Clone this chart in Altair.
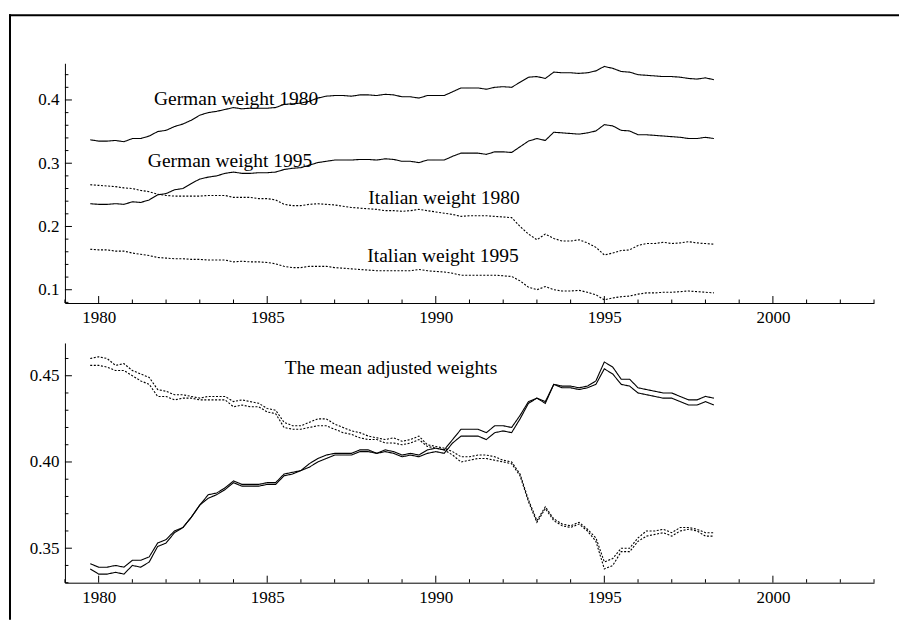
import altair as alt
import pandas as pd

# quarterly time index 1979Q4 .. 1998Q2
quarters = [round(1979.75 + 0.25 * i, 2) for i in range(75)]

german_1980 = [0.337, 0.335, 0.335, 0.336, 0.334, 0.339, 0.339, 0.343, 0.350, 0.352,
               0.358, 0.362, 0.368, 0.376, 0.380, 0.382, 0.385, 0.388, 0.386, 0.387,
               0.387, 0.387, 0.388, 0.393, 0.394, 0.395, 0.398, 0.403, 0.406, 0.407,
               0.407, 0.406, 0.408, 0.408, 0.407, 0.409, 0.408, 0.405, 0.405, 0.403,
               0.407, 0.407, 0.407, 0.413, 0.419, 0.419, 0.419, 0.417, 0.420, 0.421,
               0.420, 0.428, 0.436, 0.437, 0.434, 0.444, 0.443, 0.443, 0.442, 0.443,
               0.446, 0.453, 0.450, 0.445, 0.444, 0.440, 0.439, 0.438, 0.437, 0.437,
               0.436, 0.434, 0.433, 0.435, 0.432]
german_1995 = [0.236, 0.235, 0.235, 0.236, 0.235, 0.239, 0.238, 0.242, 0.250, 0.252,
               0.258, 0.260, 0.268, 0.275, 0.278, 0.280, 0.284, 0.286, 0.284, 0.284,
               0.285, 0.285, 0.286, 0.290, 0.292, 0.293, 0.297, 0.301, 0.303, 0.305,
               0.305, 0.305, 0.306, 0.306, 0.305, 0.307, 0.306, 0.303, 0.303, 0.301,
               0.305, 0.305, 0.305, 0.311, 0.316, 0.316, 0.316, 0.314, 0.318, 0.318,
               0.317, 0.326, 0.335, 0.339, 0.336, 0.349, 0.348, 0.347, 0.346, 0.348,
               0.351, 0.361, 0.359, 0.352, 0.351, 0.345, 0.345, 0.344, 0.343, 0.342,
               0.341, 0.339, 0.339, 0.341, 0.339]
italian_1980 = [0.266, 0.265, 0.264, 0.263, 0.261, 0.260, 0.257, 0.255, 0.251, 0.249,
                0.248, 0.248, 0.248, 0.248, 0.249, 0.249, 0.249, 0.246, 0.246, 0.246,
                0.244, 0.244, 0.242, 0.235, 0.233, 0.233, 0.235, 0.236, 0.235, 0.234,
                0.232, 0.230, 0.229, 0.228, 0.227, 0.225, 0.225, 0.224, 0.225, 0.227,
                0.225, 0.223, 0.221, 0.219, 0.216, 0.217, 0.217, 0.217, 0.216, 0.215,
                0.214, 0.200, 0.188, 0.179, 0.188, 0.181, 0.177, 0.177, 0.179, 0.174,
                0.167, 0.155, 0.158, 0.162, 0.163, 0.170, 0.173, 0.173, 0.175, 0.173,
                0.174, 0.176, 0.174, 0.173, 0.172]
italian_1995 = [0.164, 0.163, 0.163, 0.161, 0.161, 0.158, 0.156, 0.154, 0.151, 0.150,
                0.149, 0.149, 0.148, 0.148, 0.147, 0.147, 0.147, 0.144, 0.145, 0.144,
                0.144, 0.143, 0.141, 0.137, 0.135, 0.135, 0.137, 0.137, 0.137, 0.135,
                0.134, 0.133, 0.132, 0.131, 0.130, 0.130, 0.130, 0.130, 0.130, 0.132,
                0.130, 0.129, 0.128, 0.126, 0.123, 0.123, 0.123, 0.123, 0.123, 0.122,
                0.121, 0.114, 0.104, 0.100, 0.105, 0.100, 0.098, 0.098, 0.099, 0.096,
                0.092, 0.084, 0.087, 0.089, 0.090, 0.093, 0.095, 0.095, 0.096, 0.096,
                0.097, 0.098, 0.097, 0.096, 0.095]

mean_german_a = [0.341, 0.339, 0.339, 0.340, 0.339, 0.343, 0.343, 0.345, 0.353, 0.355,
                 0.360, 0.362, 0.368, 0.375, 0.381, 0.382, 0.385, 0.389, 0.387, 0.387,
                 0.387, 0.388, 0.388, 0.393, 0.394, 0.395, 0.399, 0.402, 0.404, 0.405,
                 0.405, 0.405, 0.407, 0.407, 0.405, 0.407, 0.406, 0.404, 0.405, 0.404,
                 0.407, 0.408, 0.407, 0.413, 0.419, 0.419, 0.419, 0.417, 0.421, 0.421,
                 0.420, 0.427, 0.435, 0.437, 0.435, 0.445, 0.444, 0.444, 0.443, 0.444,
                 0.447, 0.458, 0.455, 0.448, 0.448, 0.443, 0.442, 0.441, 0.440, 0.440,
                 0.438, 0.436, 0.436, 0.438, 0.437]
mean_german_b = [0.338, 0.335, 0.335, 0.336, 0.335, 0.340, 0.339, 0.342, 0.351, 0.353,
                 0.359, 0.362, 0.368, 0.375, 0.379, 0.381, 0.384, 0.388, 0.386, 0.386,
                 0.386, 0.387, 0.387, 0.392, 0.393, 0.395, 0.397, 0.400, 0.402, 0.404,
                 0.404, 0.404, 0.406, 0.406, 0.405, 0.406, 0.405, 0.403, 0.404, 0.403,
                 0.405, 0.406, 0.405, 0.411, 0.415, 0.415, 0.415, 0.413, 0.417, 0.418,
                 0.417, 0.425, 0.434, 0.437, 0.434, 0.445, 0.443, 0.443, 0.442, 0.443,
                 0.445, 0.454, 0.451, 0.445, 0.444, 0.440, 0.439, 0.438, 0.437, 0.437,
                 0.435, 0.433, 0.433, 0.435, 0.433]
mean_italian_a = [0.460, 0.461, 0.460, 0.456, 0.457, 0.453, 0.451, 0.449, 0.442, 0.441,
                  0.439, 0.439, 0.438, 0.437, 0.438, 0.438, 0.438, 0.435, 0.436, 0.435,
                  0.434, 0.431, 0.430, 0.423, 0.421, 0.421, 0.423, 0.425, 0.425, 0.422,
                  0.420, 0.418, 0.417, 0.415, 0.414, 0.413, 0.414, 0.412, 0.413, 0.415,
                  0.410, 0.409, 0.408, 0.406, 0.403, 0.403, 0.404, 0.404, 0.403, 0.401,
                  0.400, 0.393, 0.378, 0.366, 0.374, 0.367, 0.364, 0.363, 0.365, 0.361,
                  0.356, 0.342, 0.344, 0.350, 0.350, 0.356, 0.360, 0.360, 0.361, 0.359,
                  0.362, 0.362, 0.361, 0.359, 0.359]
mean_italian_b = [0.456, 0.456, 0.455, 0.453, 0.453, 0.450, 0.447, 0.445, 0.438, 0.438,
                  0.436, 0.437, 0.437, 0.436, 0.436, 0.436, 0.436, 0.432, 0.433, 0.432,
                  0.432, 0.429, 0.428, 0.420, 0.419, 0.419, 0.420, 0.421, 0.421, 0.419,
                  0.417, 0.416, 0.414, 0.413, 0.413, 0.411, 0.411, 0.410, 0.411, 0.413,
                  0.409, 0.408, 0.407, 0.404, 0.400, 0.401, 0.402, 0.402, 0.401, 0.400,
                  0.399, 0.392, 0.377, 0.365, 0.373, 0.366, 0.363, 0.362, 0.364, 0.360,
                  0.354, 0.338, 0.340, 0.348, 0.348, 0.354, 0.357, 0.358, 0.359, 0.357,
                  0.360, 0.361, 0.360, 0.357, 0.357]

x_major = [1980, 1985, 1990, 1995, 2000]
x_minor = [y for y in range(1979, 2004) if y not in x_major]
top_y_major = [0.1, 0.2, 0.3, 0.4]
top_y_minor = [0.08, 0.12, 0.14, 0.16, 0.18, 0.22, 0.24, 0.26, 0.28, 0.32, 0.34, 0.36, 0.38, 0.42, 0.44]
bot_y_major = [0.35, 0.40, 0.45]
bot_y_minor = [0.33, 0.34, 0.36, 0.37, 0.38, 0.39, 0.41, 0.42, 0.43, 0.44, 0.46]

top_labels = ["German weight 1980", "German weight 1995", "Italian weight 1980", "Italian weight 1995"]
top_label_x = [1981.64, 1981.46, 1988.0, 1987.97]
top_label_y = [0.392, 0.2933, 0.2353, 0.1445]
bot_labels = ["The mean adjusted weights"]
bot_label_x = [1985.52]
bot_label_y = [0.4508]

FONT = "Liberation Serif"
W, H = 810, 240
X_DOMAIN = [1979, 2003]
TOP_DOMAIN = [0.079, 0.458]
BOT_DOMAIN = [0.330, 0.469]


def long_df(series):
    rows = []
    for name, kind, vals in series:
        for q, v in zip(quarters, vals):
            rows.append({"year": q, "value": v, "series": name, "kind": kind})
    return pd.DataFrame(rows)


top_df = long_df([
    ("German weight 1980", "German", german_1980),
    ("German weight 1995", "German", german_1995),
    ("Italian weight 1980", "Italian", italian_1980),
    ("Italian weight 1995", "Italian", italian_1995),
])
bot_df = long_df([
    ("German mean a", "German", mean_german_a),
    ("German mean b", "German", mean_german_b),
    ("Italian mean a", "Italian", mean_italian_a),
    ("Italian mean b", "Italian", mean_italian_b),
])


def panel(df, y_domain, y_major, y_minor, y_fmt, labels, lx, ly, extra=None):
    xs = alt.Scale(domain=X_DOMAIN, nice=False, zero=False)
    ys = alt.Scale(domain=y_domain, nice=False, zero=False)
    x_axis = alt.Axis(values=x_major, format="d", ticks=False, tickSize=0,
                      grid=False, labelPadding=7, domainColor="black",
                      domainWidth=1, labelFont=FONT, labelFontSize=17,
                      labelColor="black", labelFlush=False, title=None)
    y_axis = alt.Axis(values=y_major, format=y_fmt, ticks=False, tickSize=0,
                      grid=False, labelPadding=6, domainColor="black",
                      domainWidth=1, labelFont=FONT, labelFontSize=17,
                      labelColor="black", labelFlush=False, title=None)

    def X(field):
        return alt.X(field, scale=xs, axis=x_axis, title=None)

    def Y(field):
        return alt.Y(field, scale=ys, axis=y_axis, title=None)

    lines = alt.Chart(df).mark_line(color="black", strokeWidth=1.1).encode(
        x=X("year:Q"),
        y=Y("value:Q"),
        detail="series:N",
        strokeDash=alt.StrokeDash("kind:N", scale=alt.Scale(domain=["German", "Italian"],
                                                            range=[[1, 0], [2, 1.6]]), legend=None),
    )
    xmaj = alt.Chart(pd.DataFrame({"year": x_major})).mark_rule(color="black", strokeWidth=1).encode(
        x=X("year:Q"), y=alt.value(H), y2=alt.value(H - 7))
    xmin = alt.Chart(pd.DataFrame({"year": x_minor})).mark_rule(color="black", strokeWidth=1).encode(
        x=X("year:Q"), y=alt.value(H), y2=alt.value(H - 3.5))
    ymaj = alt.Chart(pd.DataFrame({"value": y_major})).mark_rule(color="black", strokeWidth=1).encode(
        y=Y("value:Q"), x=alt.value(0), x2=alt.value(7))
    ymin = alt.Chart(pd.DataFrame({"value": y_minor})).mark_rule(color="black", strokeWidth=1).encode(
        y=Y("value:Q"), x=alt.value(0), x2=alt.value(3.5))
    text = alt.Chart(pd.DataFrame({"lab": labels, "year": lx, "value": ly})).mark_text(
        font=FONT, fontSize=19.5, color="black", align="left", baseline="alphabetic"
    ).encode(
        x=X("year:Q"),
        y=Y("value:Q"),
        text="lab:N",
    )
    layers = [lines, xmaj, xmin, ymaj, ymin, text]
    if extra:
        layers += extra
    return alt.layer(*layers).properties(width=W, height=H)


dummy = pd.DataFrame({"a": [0]})
border_left = alt.Chart(dummy).mark_rule(color="black", strokeWidth=2, strokeCap="square").encode(
    x=alt.value(-55), y=alt.value(-48), y2=alt.value(556))
border_top = alt.Chart(dummy).mark_rule(color="black", strokeWidth=2, strokeCap="square").encode(
    x=alt.value(-55), x2=alt.value(834), y=alt.value(-48))

top = panel(top_df, TOP_DOMAIN, top_y_major, top_y_minor, ".1f",
            top_labels, top_label_x, top_label_y, extra=[border_left, border_top])
bottom = panel(bot_df, BOT_DOMAIN, bot_y_major, bot_y_minor, ".2f",
               bot_labels, bot_label_x, bot_label_y)

chart = alt.vconcat(top, bottom, spacing=40, bounds="flush").properties(
    padding={"left": 0, "top": 5, "right": 0, "bottom": 0},
    background="white",
).configure_view(stroke=None)

chart.save("out.html", embed_options={"renderer": "svg", "actions": False})
